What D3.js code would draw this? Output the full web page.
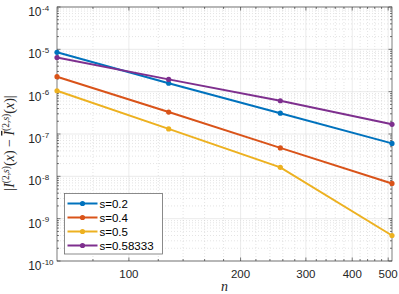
<!DOCTYPE html>
<html><head><meta charset="utf-8">
<script src="https://cdn.jsdelivr.net/npm/d3@7"></script>
<style>
body{margin:0;background:#fff;}
.sans{font-family:"Liberation Sans",Arial,sans-serif;}
.serif{font-family:"Liberation Serif","Times New Roman",serif;}
</style></head>
<body><svg id="c" width="399" height="294"></svg>
<script>
const nValues = [64, 128, 256, 512];
const seriesNames = ["s=0.2", "s=0.4", "s=0.5", "s=0.58333"];
const s02 = [8.5e-6, 1.58e-6, 3.1e-7, 6.0e-8];
const s04 = [2.26e-6, 3.3e-7, 4.7e-8, 6.8e-9];
const s05 = [1.05e-6, 1.32e-7, 1.63e-8, 4.0e-10];
const s0583 = [6.4e-6, 1.95e-6, 6.1e-7, 1.69e-7];
const seriesColors = ["#0072BD", "#D95319", "#EDB120", "#7E2F8E"];
const xTicks = [100, 200, 300, 400, 500];
const yTickExps = [-10, -9, -8, -7, -6, -5, -4];

const allSeries = [s02, s04, s05, s0583];
const svg = d3.select("#c");
const L = 57, R = 392, T = 7, B = 261;
const x = d3.scaleLog().domain([64, 512]).range([L, R]);
const y = d3.scaleLog().domain([1e-10, 1e-4]).range([B, T]);

const xMinor = d3.range(80, 520, 20).filter(v => v >= 64 && v <= 512 && !xTicks.includes(v));
const yMinor = [];
yTickExps.slice(0, -1).forEach(e => { for (let k = 2; k <= 9; k++) yMinor.push(k * Math.pow(10, e)); });

const g = svg.append("g");
g.selectAll(".xmg").data(xMinor).enter().append("line")
  .attr("x1", d => x(d)).attr("x2", d => x(d)).attr("y1", T).attr("y2", B)
  .attr("stroke", "#c9c9c9").attr("stroke-width", 0.5).attr("stroke-dasharray", "1,2");
g.selectAll(".ymg").data(yMinor).enter().append("line")
  .attr("y1", d => y(d)).attr("y2", d => y(d)).attr("x1", L).attr("x2", R)
  .attr("stroke", "#c9c9c9").attr("stroke-width", 0.5).attr("stroke-dasharray", "1,2");
g.selectAll(".xg").data(xTicks).enter().append("line")
  .attr("x1", d => x(d)).attr("x2", d => x(d)).attr("y1", T).attr("y2", B)
  .attr("stroke", "#dedede").attr("stroke-width", 0.6);
g.selectAll(".yg").data(yTickExps).enter().append("line")
  .attr("y1", d => y(Math.pow(10, d))).attr("y2", d => y(Math.pow(10, d))).attr("x1", L).attr("x2", R)
  .attr("stroke", "#dedede").attr("stroke-width", 0.6);

const axCol = "#262626";
function tickLines(vals, horiz, len) {
  vals.forEach(v => {
    if (horiz) {
      const px = x(v);
      g.append("line").attr("x1", px).attr("x2", px).attr("y1", B).attr("y2", B - len).attr("stroke", axCol).attr("stroke-width", 0.6);
      g.append("line").attr("x1", px).attr("x2", px).attr("y1", T).attr("y2", T + len).attr("stroke", axCol).attr("stroke-width", 0.6);
    } else {
      const py = y(v);
      g.append("line").attr("y1", py).attr("y2", py).attr("x1", L).attr("x2", L + len).attr("stroke", axCol).attr("stroke-width", 0.6);
      g.append("line").attr("y1", py).attr("y2", py).attr("x1", R).attr("x2", R - len).attr("stroke", axCol).attr("stroke-width", 0.6);
    }
  });
}
tickLines(xTicks, true, 3.5);
tickLines(xMinor, true, 2);
tickLines(yTickExps.map(e => Math.pow(10, e)), false, 3.5);
tickLines(yMinor, false, 2);
g.append("rect").attr("x", L).attr("y", T).attr("width", R - L).attr("height", B - T)
  .attr("fill", "none").attr("stroke", axCol).attr("stroke-width", 0.6);

g.selectAll(".xl").data(xTicks).enter().append("text").attr("class", "sans")
  .attr("x", d => x(d)).attr("y", B + 17).attr("text-anchor", "middle")
  .attr("font-size", 11.5).attr("fill", "#262626").text(d => d);
yTickExps.forEach(e => {
  const py = y(Math.pow(10, e));
  g.append("text").attr("class", "sans").attr("x", 41.5).attr("y", py + 9).attr("text-anchor", "end")
    .attr("font-size", 12).attr("fill", "#262626").text("10");
  g.append("text").attr("class", "sans").attr("x", 42).attr("y", py + 3.5).attr("text-anchor", "start")
    .attr("font-size", 8).attr("fill", "#262626").text(String(e));
});

const line = d3.line().x((d, i) => x(nValues[i])).y(d => y(d));
allSeries.forEach((s, k) => {
  g.append("path").attr("d", line(s)).attr("fill", "none")
    .attr("stroke", seriesColors[k]).attr("stroke-width", 2);
  g.selectAll(".m" + k).data(s).enter().append("circle")
    .attr("cx", (d, i) => x(nValues[i])).attr("cy", d => y(d)).attr("r", 2.6)
    .attr("fill", seriesColors[k]);
});

g.append("text").attr("class", "serif").attr("x", (L + R) / 2).attr("y", 291).attr("text-anchor", "middle")
  .attr("font-style", "italic").attr("font-size", 14).attr("fill", "#262626").text("n");

const yl = g.append("text").attr("class", "serif").attr("transform", "translate(14," + ((T + B) / 2 + 9) + ") rotate(-90)")
  .attr("text-anchor", "middle").attr("font-size", 14).attr("fill", "#262626");
yl.append("tspan").text("|");
yl.append("tspan").attr("font-style", "italic").text("I");
yl.append("tspan").attr("font-size", 9.5).attr("dy", -5.5).text("(2,");
yl.append("tspan").attr("font-size", 9.5).attr("font-style", "italic").text("s");
yl.append("tspan").attr("font-size", 9.5).text(")");
yl.append("tspan").attr("dy", 5.5).text("(");
yl.append("tspan").attr("font-style", "italic").text("x");
yl.append("tspan").text(")  −  ");
yl.append("tspan").attr("font-style", "italic").style("text-decoration", "overline").text("I");
yl.append("tspan").attr("font-size", 9.5).attr("dy", -5.5).text("(2,");
yl.append("tspan").attr("font-size", 9.5).attr("font-style", "italic").text("s");
yl.append("tspan").attr("font-size", 9.5).text(")");
yl.append("tspan").attr("dy", 5.5).text("(");
yl.append("tspan").attr("font-style", "italic").text("x");
yl.append("tspan").text(")|");

const lg = g.append("g");
lg.append("rect").attr("x", 64.5).attr("y", 193.5).attr("width", 98).attr("height", 60.5)
  .attr("fill", "#fff").attr("stroke", "#6e6e6e").attr("stroke-width", 0.8);
seriesNames.forEach((name, k) => {
  const ly = 203.5 + k * 14;
  lg.append("line").attr("x1", 67.5).attr("x2", 97.5).attr("y1", ly).attr("y2", ly)
    .attr("stroke", seriesColors[k]).attr("stroke-width", 2);
  lg.append("circle").attr("cx", 82.5).attr("cy", ly).attr("r", 2.6).attr("fill", seriesColors[k]);
  lg.append("text").attr("class", "sans").attr("x", 99.5).attr("y", ly + 4).attr("font-size", 11.5).attr("fill", "#000").text(name);
});
</script>
</body></html>
